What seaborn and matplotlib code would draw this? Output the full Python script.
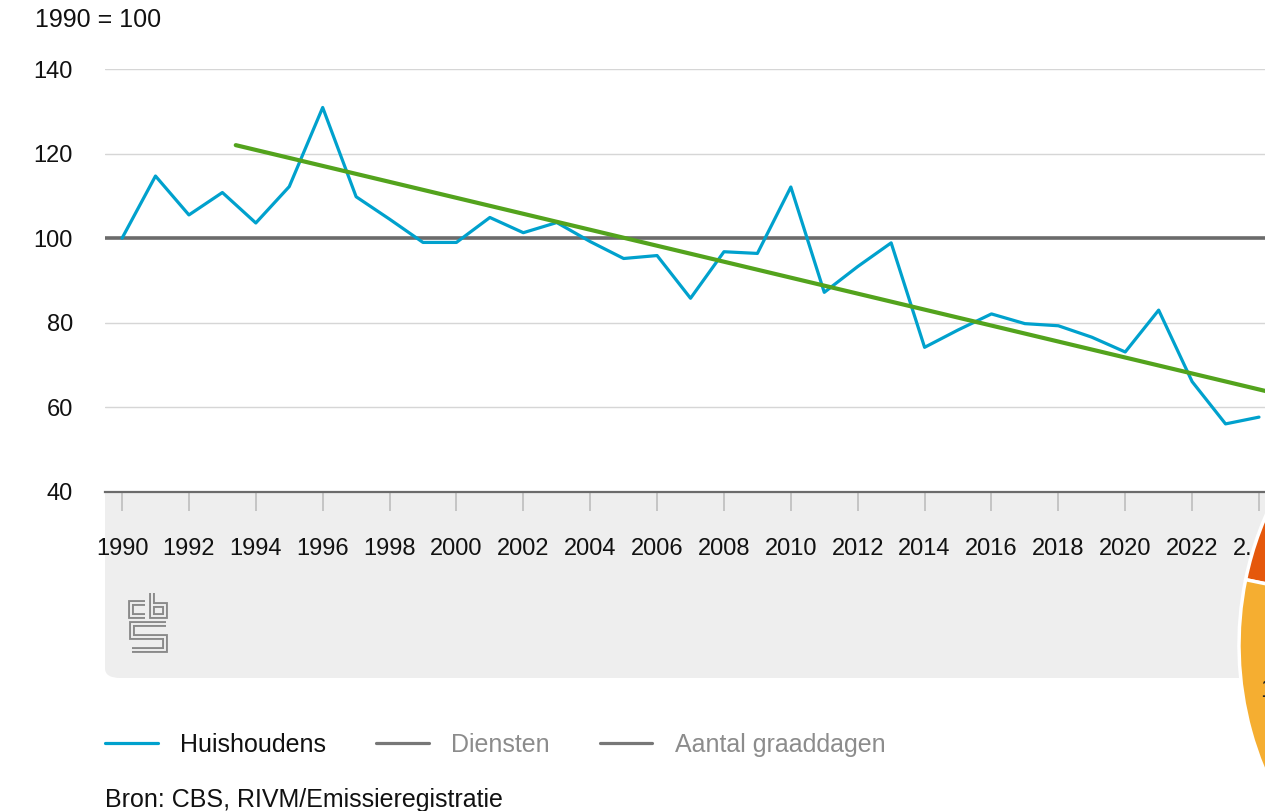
import numpy as np
import pandas as pd
import matplotlib
matplotlib.use("Agg")
import matplotlib.pyplot as plt
import seaborn as sns
from matplotlib.lines import Line2D
from matplotlib.patches import FancyBboxPatch
from matplotlib.transforms import ScaledTranslation

# ==========================================
# DATA
# ==========================================

years = list(range(1990, 2025))

huishoudens = [
    100.0, 114.7, 105.5, 110.8, 103.6, 112.2, 130.9, 109.8, 104.5, 99.0,
    99.0, 104.9, 101.3, 103.7, 99.2, 95.2, 95.9, 85.8, 96.8, 96.4,
    112.1, 87.2, 93.3, 98.9, 74.2, 78.3, 82.1, 79.8, 79.3, 76.6,
    73.1, 83.0, 66.1, 56.1, 57.7
]

trend_years = [1993.4, 2024.5]
trend_values = [122.0, 63.3]

index_base = 100

tick_years = list(range(1990, 2025, 2))
tick_labels = [str(y) for y in tick_years[:-1]] + ["2."]

y_ticks = [40, 60, 80, 100, 120, 140]

legend_labels = ["Huishoudens", "Diensten", "Aantal graaddagen"]

pie_values = [10, 30, 60]

df = pd.DataFrame({"jaar": years, "index": huishoudens})
trend = pd.DataFrame({"jaar": trend_years, "index": trend_values})

# ==========================================
# STYLE
# ==========================================

sns.set_theme(style="white")
plt.rcParams["font.family"] = ["Liberation Sans", "DejaVu Sans"]

BLUE = "#00a1cd"
GREEN = "#53a31d"
DARK = "#6b6b6b"
GRID = "#d6d6d6"
BAND = "#eeeeee"
MUTED = "#8c8c8c"

W, H = 1265, 811
fig = plt.figure(figsize=(W / 100, H / 100), dpi=100)


def fx(px):
    return px / W


def fy(py):
    return 1 - py / H


# grey band behind the x axis
band = FancyBboxPatch(
    (fx(105), fy(678)),
    fx(1400) - fx(105),
    fy(470) - fy(678),
    boxstyle="round,pad=0,rounding_size=0.012",
    transform=fig.transFigure,
    facecolor=BAND,
    edgecolor="none",
    zorder=-5
)
fig.patches.append(band)

ax = fig.add_axes([fx(105), fy(492), 1 - fx(105), fy(69) - fy(492)])
ax.set_facecolor("white")

# ==========================================
# LINES
# ==========================================

ax.axhline(index_base, color=DARK, linewidth=2.6, zorder=2)

sns.lineplot(
    data=df, x="jaar", y="index",
    color=BLUE, linewidth=2.3, ax=ax, zorder=3
)

sns.lineplot(
    data=trend, x="jaar", y="index",
    color=GREEN, linewidth=3.0, ax=ax, zorder=4
)

ax.set_xlim(1989.49, 2024.18)
ax.set_ylim(40, 140)

ax.set_yticks(y_ticks)
ax.set_xticks(tick_years)
ax.set_xticklabels(tick_labels)
ax.set_xlabel("")
ax.set_ylabel("")

ax.yaxis.grid(True, color=GRID, linewidth=1.0)
ax.xaxis.grid(False)

for side in ["top", "right", "left"]:
    ax.spines[side].set_visible(False)
ax.spines["bottom"].set_color(DARK)
ax.spines["bottom"].set_linewidth(1.6)

ax.tick_params(axis="y", left=False, length=0, pad=23,
               labelsize=17, labelcolor="#111111")
ax.tick_params(
    axis="x", bottom=True, length=14, width=1.4, color="#c4c4c4",
    direction="out", pad=19, labelsize=17, labelcolor="#111111"
)

last = ax.get_xticklabels()[-1]
last.set_transform(last.get_transform() + ScaledTranslation(-0.16, 0, fig.dpi_scale_trans))

# ==========================================
# TEXTS
# ==========================================

fig.text(fx(35), fy(20), "1990 = 100", fontsize=18, color="#111111",
         ha="left", va="center")

fig.text(fx(105), fy(800), "Bron: CBS, RIVM/Emissieregistratie",
         fontsize=18, color="#111111", ha="left", va="center")

# legend
handles = [
    Line2D([0], [0], color=BLUE, linewidth=2.3),
    Line2D([0], [0], color="#777777", linewidth=2.3),
    Line2D([0], [0], color="#777777", linewidth=2.3),
]
leg = fig.legend(
    handles, legend_labels,
    loc="center left", bbox_to_anchor=(fx(105), fy(745)),
    ncol=3, frameon=False, fontsize=18,
    handlelength=2.1, handletextpad=0.9, columnspacing=2.0,
    borderpad=0, borderaxespad=0
)
for txt, col in zip(leg.get_texts(), ["#111111", MUTED, MUTED]):
    txt.set_color(col)

# cbs logo (simple outline strokes)
logo_paths = [
    [(145, 603), (131, 603), (131, 616), (145, 616)],
    [(152, 593), (152, 616), (165, 616), (165, 605), (152, 605)],
    [(166, 624), (132, 624), (132, 637), (165, 637), (165, 650), (132, 650)],
]
for path in logo_paths:
    xs = [fx(p[0]) for p in path]
    ys = [fy(p[1]) for p in path]
    for lw, col in [(4.2, "#8a8a8a"), (1.4, BAND)]:
        fig.add_artist(Line2D(xs, ys, transform=fig.transFigure,
                              color=col, linewidth=lw,
                              solid_joinstyle="miter", solid_capstyle="butt"))

# partial pie at the right edge
pie_ax = fig.add_axes([fx(1239), fy(970), fx(650), 650 / H])
pie_ax.pie(
    pie_values,
    colors=["#e5580c", "#f5ae31", "#f5ae31"],
    startangle=132.4,
    counterclock=True,
    wedgeprops={"edgecolor": "white", "linewidth": 2.5}
)
pie_ax.set_xlim(-1, 1)
pie_ax.set_ylim(-1, 1)
pie_ax.set_aspect("equal")
pie_ax.text(-0.935, -0.14, "10%", fontsize=18, color="#222222",
            ha="left", va="center")

plt.savefig("out.png", dpi=100)
plt.close()
